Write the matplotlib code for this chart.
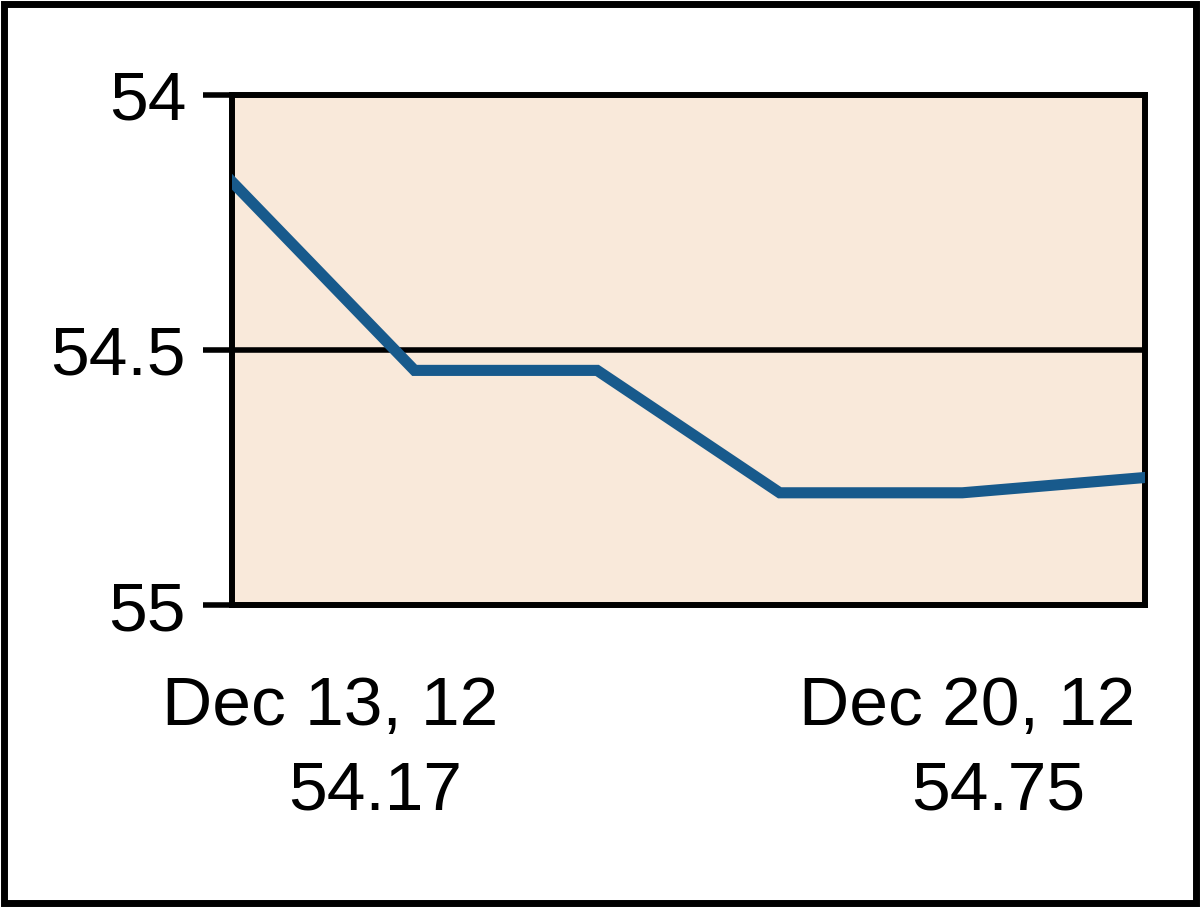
import matplotlib.pyplot as plt
from matplotlib.patches import Rectangle

dates = ["Dec 13, 12", "Dec 14, 12", "Dec 17, 12", "Dec 18, 12", "Dec 19, 12", "Dec 20, 12"]
prices = [54.17, 54.54, 54.54, 54.78, 54.78, 54.75]
yticks = [54, 54.5, 55]
ytick_labels = ["54", "54.5", "55"]

plt.rcParams['font.family'] = ['Liberation Sans', 'DejaVu Sans']

fig = plt.figure(figsize=(12, 9.08), dpi=100)
ax = fig.add_axes([0.1933, 0.3337, 0.7608, 0.5617])
ax.set_facecolor('#F9E9DA')

x = range(len(prices))
ax.plot(x, prices, color='#185A8C', lw=8, solid_joinstyle='miter', zorder=3)
ax.axhline(54.5, color='black', lw=4, zorder=2)

ax.set_xlim(0, len(prices) - 1)
ax.set_ylim(55, 54)
ax.set_xticks([])
ax.set_yticks(yticks)
ax.set_yticklabels(ytick_labels, fontsize=50)
ax.tick_params(axis='y', length=21, width=4, pad=12, color='black')
for s in ax.spines.values():
    s.set_linewidth(4.3)
    s.set_color('black')

# first / last date and price under the plot
fs = 50
fig.text(0.275, 0.2015, dates[0], ha='center', va='baseline', fontsize=fs)
fig.text(0.313, 0.108, f"{prices[0]:.2f}", ha='center', va='baseline', fontsize=fs)
fig.text(0.806, 0.2015, dates[-1], ha='center', va='baseline', fontsize=fs)
fig.text(0.832, 0.108, f"{prices[-1]:.2f}", ha='center', va='baseline', fontsize=fs)

# outer frame
fig.patches.append(Rectangle((0.003, 0.006), 0.994, 0.99, transform=fig.transFigure,
                             fill=False, edgecolor='black', lw=5))

fig.savefig("out.png", dpi=100)
